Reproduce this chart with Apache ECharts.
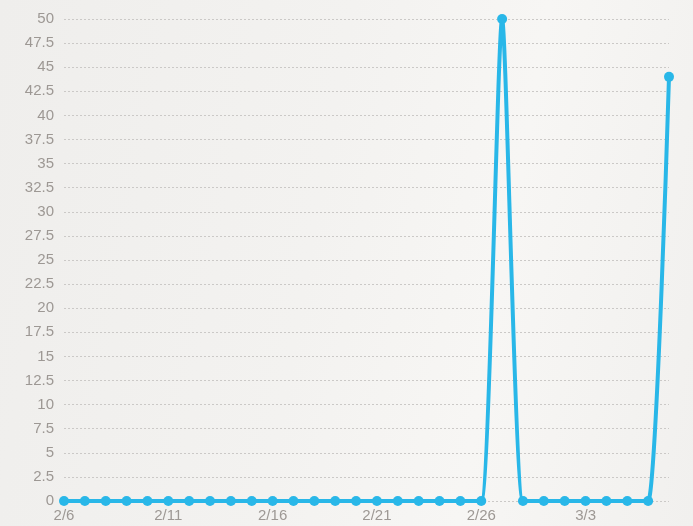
<!DOCTYPE html>
<html>
<head>
<meta charset="utf-8">
<script src="https://cdn.jsdelivr.net/npm/echarts@6/dist/echarts.min.js"></script>
<style>
  html, body { margin: 0; padding: 0; }
  body {
    width: 693px; height: 526px;
    background: linear-gradient(100deg, #efeeec 0%, #f3f2f0 45%, #f7f6f4 70%, #f1f0ee 100%);
  }
  #chart { width: 693px; height: 526px; }
</style>
</head>
<body>
<div id="chart"></div>
<script>
// dates 2/6 .. 3/7
const dates = [
  "2/6", "2/7", "2/8", "2/9", "2/10", "2/11", "2/12", "2/13", "2/14", "2/15",
  "2/16", "2/17", "2/18", "2/19", "2/20", "2/21", "2/22", "2/23", "2/24", "2/25",
  "2/26", "2/27", "2/28", "3/1", "3/2", "3/3", "3/4", "3/5", "3/6", "3/7"
];
const counts = [
  0, 0, 0, 0, 0, 0, 0, 0, 0, 0,
  0, 0, 0, 0, 0, 0, 0, 0, 0, 0,
  0, 50, 0, 0, 0, 0, 0, 0, 0, 44
];

const chart = echarts.init(document.getElementById("chart"));
const option = {
  backgroundColor: "transparent",
  grid: { left: 64, right: 24, top: 19, bottom: 25 },
  xAxis: {
    type: "category",
    boundaryGap: false,
    data: dates,
    axisLine: { show: false },
    axisTick: { show: false },
    axisLabel: {
      interval: 4,
      color: "#9d9894",
      fontSize: 15,
      fontFamily: "Liberation Sans, Arial, sans-serif",
      margin: 7
    }
  },
  yAxis: {
    type: "value",
    min: 0,
    max: 50,
    interval: 2.5,
    axisLine: { show: false },
    axisTick: { show: false },
    axisLabel: {
      color: "#9d9894",
      fontSize: 15,
      fontFamily: "Liberation Sans, Arial, sans-serif",
      margin: 10
    },
    splitLine: { lineStyle: { type: [2, 2], color: "#cbc9c7", width: 1 } }
  },
  series: [
    {
      type: "line",
      smooth: 0.2,
      data: counts,
      symbol: "circle",
      symbolSize: 10,
      itemStyle: { color: "#29b7e8" },
      lineStyle: { color: "#29b7e8", width: 4 }
    }
  ]
};
chart.setOption(option);
</script>
</body>
</html>
